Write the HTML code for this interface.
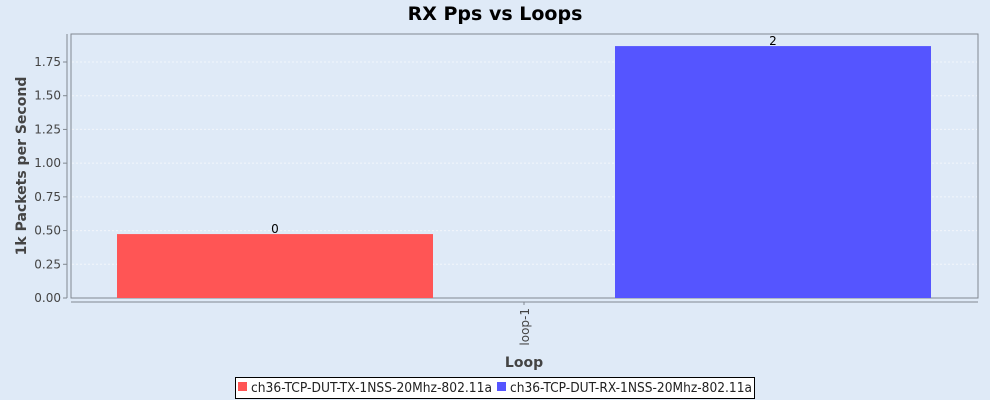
<!DOCTYPE html>
<html><head><meta charset="utf-8"><style>
body{margin:0;background:#dfeaf7;font-family:"DejaVu Sans","Liberation Sans",sans-serif;}
svg{display:block}
</style></head><body>
<svg width="990" height="400" id="c">
<rect width="990" height="400" fill="#dfeaf7"/>
<text x="495" y="20" text-anchor="middle" font-size="19" font-weight="bold" fill="#000">RX Pps vs Loops</text>
<rect x="71" y="34" width="907" height="264" fill="#dfeaf7" stroke="#808890"/>
<g id="grid"></g>
<line x1="67" y1="34" x2="67" y2="298" stroke="#808890"/>
<line x1="71" y1="302" x2="978" y2="302" stroke="#808890"/>
<g id="bars"></g>
<line x1="524" y1="302" x2="524" y2="305" stroke="#808890"/>
<text transform="translate(529,308) rotate(-90)" text-anchor="end" font-size="12" fill="#444">loop-1</text>
<text x="524" y="367" text-anchor="middle" font-size="14" font-weight="bold" fill="#444">Loop</text>
<text transform="translate(26,166) rotate(-90)" text-anchor="middle" font-size="14" font-weight="bold" fill="#444">1k Packets per Second</text>
<g>
<rect x="235.5" y="377.5" width="519" height="21" fill="#fff" stroke="#000"/>
<rect x="238" y="382" width="9" height="9" fill="#ff5555"/>
<text x="251" y="392" font-size="13" textLength="241" lengthAdjust="spacingAndGlyphs" fill="#222">ch36-TCP-DUT-TX-1NSS-20Mhz-802.11a</text>
<rect x="497" y="382" width="9" height="9" fill="#5555ff"/>
<text x="510" y="392" font-size="13" textLength="242" lengthAdjust="spacingAndGlyphs" fill="#222">ch36-TCP-DUT-RX-1NSS-20Mhz-802.11a</text>
</g>
</svg>
<script>
const seriesNames=["ch36-TCP-DUT-TX-1NSS-20Mhz-802.11a","ch36-TCP-DUT-RX-1NSS-20Mhz-802.11a"];
const seriesValues=[0.474,1.868];
const valueLabels=["0","2"];
const seriesColors=["#ff5555","#5555ff"];
const yTicks=[0,0.25,0.5,0.75,1,1.25,1.5,1.75];
const NS="http://www.w3.org/2000/svg";
const y0=298,pxPer=(298-62)/1.75;
function y(v){return y0-v*pxPer;}
const grid=document.getElementById('grid'),svg=document.getElementById('c');
yTicks.forEach(t=>{
 if(t>0){const l=document.createElementNS(NS,'line');
 l.setAttribute('x1',72);l.setAttribute('x2',977);l.setAttribute('y1',y(t));l.setAttribute('y2',y(t));
 l.setAttribute('stroke','#f2f6fb');l.setAttribute('stroke-dasharray','2,2');
 
 
 grid.appendChild(l);}
 const tk=document.createElementNS(NS,'line');
 tk.setAttribute('x1',63);tk.setAttribute('x2',67);tk.setAttribute('y1',y(t));tk.setAttribute('y2',y(t));tk.setAttribute('stroke','#808890');
 
 
 grid.appendChild(tk);
 const tx=document.createElementNS(NS,'text');
 tx.setAttribute('x',61);tx.setAttribute('y',y(t)+4);tx.setAttribute('text-anchor','end');tx.setAttribute('font-size','12');tx.setAttribute('fill','#444');
 tx.textContent=t.toFixed(2);
 
 
 grid.appendChild(tx);
});
const bars=document.getElementById('bars');
const bx=[117,615],bw=316;
seriesValues.forEach((v,i)=>{
 const r=document.createElementNS(NS,'rect');
 r.setAttribute('x',bx[i]);r.setAttribute('y',y(v));r.setAttribute('width',bw);r.setAttribute('height',y0-y(v));r.setAttribute('fill',seriesColors[i]);
 
 
 bars.appendChild(r);
 const t=document.createElementNS(NS,'text');
 t.setAttribute('x',bx[i]+bw/2);t.setAttribute('y',y(v)-1);t.setAttribute('text-anchor','middle');t.setAttribute('font-size','12');t.setAttribute('fill','#000');
 t.textContent=valueLabels[i];
 
 
 bars.appendChild(t);
});
</script>
</body></html>
